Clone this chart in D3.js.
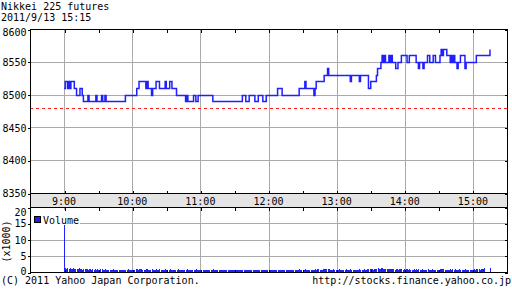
<!doctype html>
<meta charset="utf-8">
<html>
<head>
<script src="https://d3js.org/d3.v7.min.js"></script>
<style>
    body { margin: 0; background: #fff; }
    text { font-family: "DejaVu Sans Mono", monospace; font-size: 10px; fill: #000; }
    .grid { stroke: #aaaaaa; stroke-width: 1; shape-rendering: crispEdges; }
    .frame { fill: none; stroke: #000; shape-rendering: crispEdges; }
    .axis path { display: none; }
    .axis line { stroke: #000; shape-rendering: crispEdges; }
</style>
</head>
<body>
<div id="chart"></div>
<script>

    // --- data ---
    var titleText = "Nikkei 225 futures";
    var stampText = "2011/9/13 15:15";
    var prevClose = 8480;

    // step changes of the futures price: time, price from that minute on
    var stepTimes = ["09:00","09:01","09:03","09:04","09:05","09:06","09:09","09:11","09:14","09:16",
        "09:17","09:21","09:22","09:28","09:29","09:33","09:34","09:36","09:37","09:54",
        "10:04","10:06","10:12","10:13","10:14","10:17","10:18","10:21","10:24","10:29",
        "10:30","10:33","10:35","10:39","10:47","10:48","10:49","10:54","10:56","10:58",
        "11:11","11:37","11:40","11:43","11:48","11:51","11:55","11:58","12:08","12:12",
        "12:27","12:32","12:33","12:40","12:41","12:42","12:49","12:52","12:53","13:12",
        "13:13","13:20","13:21","13:28","13:30","13:35","13:36","13:39","13:40","13:41",
        "13:42","13:43","13:46","13:47","13:48","13:49","13:52","13:54","13:57","14:02",
        "14:04","14:10","14:12","14:13","14:16","14:17","14:20","14:22","14:25","14:27",
        "14:31","14:32","14:33","14:34","14:37","14:40","14:41","14:42","14:43","14:44",
        "14:46","14:47","14:49","14:53","14:54","15:03","15:15"];
    var stepPrices = [8510,8520,8510,8520,8510,8520,8510,8500,8510,8500,
        8490,8500,8490,8500,8490,8500,8490,8500,8490,8500,
        8510,8520,8510,8520,8510,8500,8510,8520,8510,8520,
        8510,8520,8510,8500,8490,8500,8490,8500,8490,8500,
        8490,8500,8490,8500,8490,8500,8490,8500,8510,8500,
        8510,8520,8510,8500,8510,8520,8530,8540,8530,8520,
        8530,8520,8530,8510,8520,8530,8540,8550,8560,8550,
        8560,8550,8560,8550,8560,8550,8540,8550,8560,8550,
        8560,8550,8540,8550,8540,8550,8560,8550,8560,8550,
        8560,8570,8560,8570,8560,8550,8560,8550,8560,8550,
        8540,8550,8560,8540,8550,8560,8570];

    // volume per minute from 09:00 to 15:15, in hundreds of contracts
    var volStart = "09:00";
    var volHundreds = [
        150,12,10,11,9,12,10,8,11,9,10,8,9,11,8,9,7,10,8,9,
        8,7,9,8,6,8,7,9,7,8,6,7,8,9,7,6,8,7,6,7,
        6,7,6,8,6,5,7,6,6,7,5,6,7,6,5,6,8,7,6,5,
        6,7,6,8,9,7,8,10,8,7,6,7,8,9,7,6,7,8,6,7,
        7,8,6,7,8,6,7,6,7,9,7,6,7,8,6,7,6,5,6,7,
        8,6,7,6,5,6,7,6,8,7,6,7,5,6,7,6,8,7,6,7,
        6,5,6,7,5,6,5,6,7,5,6,8,6,5,6,5,6,5,5,6,
        5,6,5,5,6,5,6,5,5,6,5,5,6,5,6,5,7,6,7,6,
        6,7,6,7,6,5,6,6,7,6,5,7,6,5,6,6,7,6,5,6,
        7,6,6,5,7,6,6,5,7,6,6,7,6,5,6,5,6,5,6,7,
        6,5,6,7,6,5,6,8,7,6,7,6,9,7,6,7,6,5,6,7,
        7,8,7,9,8,7,6,7,8,9,10,8,9,8,7,6,7,8,6,7,
        7,6,8,7,6,7,6,7,8,6,7,6,8,7,6,7,6,7,6,7,
        8,7,6,7,8,6,7,8,9,8,10,8,7,8,9,10,11,9,8,11,
        12,10,9,10,9,8,10,9,8,9,8,7,9,8,7,8,9,8,7,8,
        7,8,9,7,8,7,6,7,8,6,8,7,8,6,7,8,7,6,7,6,
        8,7,6,7,8,7,6,7,6,7,6,8,9,8,9,7,6,7,6,7,
        8,7,8,7,8,6,7,6,8,7,6,7,6,8,7,6,7,6,7,6,
        7,8,7,8,9,8,7,8,9,10,11,0,0,0,0,12];

    var priceTicks = [8350, 8400, 8450, 8500, 8550, 8600];
    var volTicks = [0, 5, 10, 15, 20];
    var footLeft = "(C) 2011 Yahoo Japan Corporation.";
    var footRight = "http://stocks.finance.yahoo.co.jp";

    // --- layout ---
    var W = 512, H = 301;
    var left = 30, right = 507;
    var pTop = 29, pBot = 193, bandBot = 207, vBot = 272;
    var blue = "#2020ff";

    var parse = d3.timeParse("%Y-%m-%d %H:%M");
    function t(s) { return parse("2011-09-13 " + s); }

    var x = d3.scaleTime().domain([t("08:30"), t("15:30")]).range([left, right]);
    var yP = d3.scaleLinear().domain([8350, 8600]).range([pBot, pTop]);
    var yV = d3.scaleLinear().domain([0, 20]).range([vBot, bandBot]);
    var hours = d3.timeHour.range(t("09:00"), t("15:01"));
    var halfHours = d3.timeMinute.every(30).range(t("08:30"), t("15:31"));

    var svg = d3.select("#chart").append("svg")
        .attr("width", W).attr("height", H);
    svg.append("rect").attr("width", W).attr("height", H).attr("fill", "#fff");

    // grids
    svg.selectAll(".pgrid").data(priceTicks.slice(1, -1)).enter().append("line")
        .attr("class", "grid")
        .attr("x1", left).attr("x2", right)
        .attr("y1", function(d) { return Math.round(yP(d)) + 0.5; })
        .attr("y2", function(d) { return Math.round(yP(d)) + 0.5; });
    svg.selectAll(".vgrid").data(volTicks.slice(1, -1)).enter().append("line")
        .attr("class", "grid")
        .attr("x1", left).attr("x2", right)
        .attr("y1", function(d) { return Math.round(yV(d)) + 0.5; })
        .attr("y2", function(d) { return Math.round(yV(d)) + 0.5; });
    [[pTop, pBot], [bandBot, vBot]].forEach(function(r) {
        svg.selectAll(null).data(hours).enter().append("line")
            .attr("class", "grid")
            .attr("x1", function(d) { return Math.round(x(d)) + 0.5; })
            .attr("x2", function(d) { return Math.round(x(d)) + 0.5; })
            .attr("y1", r[0]).attr("y2", r[1]);
    });

    // previous close
    svg.append("line")
        .attr("x1", left).attr("x2", right)
        .attr("y1", Math.round(yP(prevClose)) + 0.5)
        .attr("y2", Math.round(yP(prevClose)) + 0.5)
        .attr("stroke", "#ff2020")
        .attr("stroke-dasharray", "3,3")
        .attr("shape-rendering", "crispEdges");

    // price line
    var steps = stepTimes.map(function(s, i) { return {t: t(s), p: stepPrices[i]}; });
    var line = d3.line()
        .x(function(d) { return x(d.t); })
        .y(function(d) { return Math.round(yP(d.p)) + 0.5; })
        .curve(d3.curveStepAfter);
    svg.append("path").datum(steps)
        .attr("d", line)
        .attr("fill", "none")
        .attr("stroke", blue)
        .attr("stroke-width", 1.5);

    // volume bars
    var v0 = t(volStart);
    var vols = volHundreds.map(function(v, i) {
        return {t: d3.timeMinute.offset(v0, i), v: v / 10};
    }).filter(function(d) { return d.v > 0; });
    svg.selectAll(".vol").data(vols).enter().append("rect")
        .attr("class", "vol")
        .attr("x", function(d) { return Math.round(x(d.t)); })
        .attr("width", 1)
        .attr("y", function(d) { return yV(d.v); })
        .attr("height", function(d) { return vBot - yV(d.v); })
        .attr("fill", blue)
        .attr("shape-rendering", "crispEdges");

    // legend
    svg.append("rect").attr("x", left + 1).attr("y", 210).attr("width", 49).attr("height", 15).attr("fill", "#fff");
    svg.append("rect").attr("x", 34.5).attr("y", 216.5).attr("width", 6).attr("height", 6)
        .attr("fill", "#2222dd").attr("stroke", "#000").attr("stroke-width", 1);
    svg.append("text").attr("x", 43).attr("y", 224).text("Volume");

    // time band
    svg.append("rect")
        .attr("x", left + 0.5).attr("y", pBot + 0.5)
        .attr("width", right - left).attr("height", bandBot - pBot)
        .attr("fill", "#e4e4e4").attr("stroke", "#000")
        .attr("shape-rendering", "crispEdges");
    svg.selectAll(".tlab").data(hours).enter().append("text")
        .attr("x", function(d) { return x(d); })
        .attr("y", 205)
        .attr("text-anchor", "middle")
        .text(d3.timeFormat("%-H:%M"));

    // frames
    svg.append("rect").attr("class", "frame")
        .attr("x", left + 0.5).attr("y", pTop + 0.5)
        .attr("width", right - left).attr("height", pBot - pTop);
    svg.append("rect").attr("class", "frame")
        .attr("x", left + 0.5).attr("y", bandBot + 0.5)
        .attr("width", right - left).attr("height", vBot - bandBot);

    // tick marks
    function timeTicks(y, size) {
        svg.append("g").attr("class", "axis")
            .attr("transform", "translate(0.5," + (y + 0.5) + ")")
            .call(d3.axisBottom(x).tickValues(halfHours.map(function(d) { return x(d) > left + 2 && x(d) < right - 2 ? d : null; }).filter(Boolean))
                .tickSize(size).tickFormat(""));
    }
    timeTicks(pTop, 3);
    timeTicks(pBot, -3);
    timeTicks(bandBot, 3);
    timeTicks(vBot, -3);

    var pLeft = svg.append("g").attr("class", "axis")
        .attr("transform", "translate(" + (left + 0.5) + ",0.5)")
        .call(d3.axisLeft(yP).tickValues(priceTicks).tickSize(3).tickPadding(1).tickFormat(d3.format("d")));
    pLeft.selectAll("text").filter(function(d) { return d === 8600; }).attr("dy", "0.62em");
    svg.append("g").attr("class", "axis")
        .attr("transform", "translate(" + (right + 0.5) + ",0.5)")
        .call(d3.axisRight(yP).tickValues(priceTicks).tickSize(-3).tickFormat(""));

    var vLeft = svg.append("g").attr("class", "axis")
        .attr("transform", "translate(" + (left + 0.5) + ",0.5)")
        .call(d3.axisLeft(yV).tickValues(volTicks).tickSize(3).tickPadding(1));
    vLeft.selectAll("text").filter(function(d) { return d === 20; }).attr("dy", "0.75em");
    vLeft.selectAll("text").filter(function(d) { return d === 0; }).attr("dy", "0.2em");
    svg.append("g").attr("class", "axis")
        .attr("transform", "translate(" + (right + 0.5) + ",0.5)")
        .call(d3.axisRight(yV).tickValues(volTicks).tickSize(-3).tickFormat(""));
    svg.selectAll(".axis text").style("font-family", "DejaVu Sans Mono").style("font-size", "10px");

    svg.append("text")
        .attr("transform", "translate(10,241.5) rotate(-90)")
        .attr("text-anchor", "middle")
        .text("(x1000)");

    // titles and footer
    svg.append("text").attr("x", 1).attr("y", 10).text(titleText);
    svg.append("text").attr("x", 1).attr("y", 21).text(stampText);
    svg.append("text").attr("x", 1).attr("y", 284).text(footLeft);
    svg.append("text").attr("x", 511).attr("y", 284).attr("text-anchor", "end").text(footRight);

</script>
</body>
</html>
